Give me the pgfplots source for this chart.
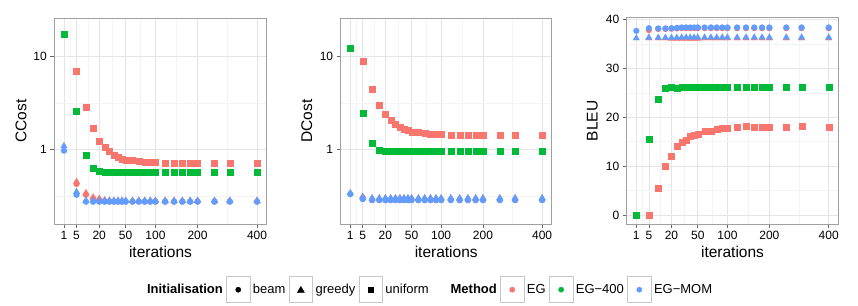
\documentclass[border=0pt]{standalone}
\usepackage{fontspec}
\setmainfont{Liberation Sans}
\usepackage{pgfplots}
\pgfplotsset{compat=1.18}
\definecolor{egred}{HTML}{F8766D}
\definecolor{eggreen}{HTML}{00BA38}
\definecolor{egblue}{HTML}{619CFF}
\definecolor{gmajor}{RGB}{229,229,229}
\definecolor{gminor}{RGB}{244,244,244}
\definecolor{gborder}{RGB}{160,160,160}
\tikzset{keybox/.style={draw=black!22, fill=white, line width=0.7pt}}
\pgfplotsset{
  panel/.style={
    scale only axis, height=205.7pt,
    anchor=south west,
    x coord trafo/.code={\pgfmathparse{sqrt(##1)}},
    x coord inv trafo/.code={\pgfmathparse{(##1)^2}},
    xmin=0.0025, xmax=438.9,
    xtick={1,5,20,50,100,200,400},
    xticklabels={1,5,20,50,100,200,400},
    minor xtick={2.618,11.25,33.3,72.9,145.7,291.4},
    grid=both,
    major grid style={draw=gmajor, line width=0.6pt},
    minor grid style={draw=gminor, line width=0.5pt},
    axis line style={draw=gborder, line width=0.7pt},
    tick align=outside, xtick pos=left, ytick pos=left,
    major tick length=4pt, minor tick length=0pt,
    tick style={draw=black!60, line width=0.6pt},
    ticklabel style={font=\fontsize{12}{14}\selectfont, text=black},
    /pgf/number format/assume math mode=true,
    label style={font=\fontsize{15.5}{18}\selectfont},
    xlabel={iterations},
    xlabel style={at={(axis description cs:0.5,-0.137)}, anchor=center},
    every axis plot/.append style={only marks, forget plot},
  },
  sq/.style={mark=square*, mark size=3pt, color=#1, mark options={draw=#1, fill=#1, line width=0.1pt}},
  ci/.style={mark=*, mark size=3pt, color=#1, mark options={draw=#1, fill=#1, line width=0.1pt}},
  tr/.style={mark=triangle*, mark size=3.9pt, color=#1, mark options={draw=#1, fill=#1, line width=0.1pt}},
}
\newcommand{\kbox}{\draw[keybox] (0pt,-13pt) rectangle (23.5pt,13pt);}
\begin{document}
\begin{tikzpicture}
\useasboundingbox (0,0) rectangle (858pt,305pt);
% ---------------- CCost
\begin{axis}[panel, at={(54.3pt,81pt)}, width=212.4pt,
  ymode=log, ymin=0.161, ymax=25.2,
  ytick={1,10}, yticklabels={1,10}, minor ytick={0.3162,3.162},
  ylabel={CCost}, ylabel style={at={(axis description cs:-0.157,0.5)}, anchor=center}]
\addplot[ci=egred] coordinates {(5,0.43)(10,0.33)(15,0.30)(20,0.29)(25,0.283)(30,0.28)(35,0.28)(40,0.28)(45,0.28)(50,0.28)(60,0.28)(70,0.28)(80,0.28)(90,0.28)(100,0.28)(120,0.28)(140,0.28)(160,0.28)(180,0.28)(200,0.28)(250,0.28)(300,0.28)(400,0.28)};
\addplot[tr=egred] coordinates {(5,0.455)(10,0.345)(15,0.31)(20,0.30)(25,0.29)(30,0.287)(35,0.285)(40,0.285)(45,0.285)(50,0.285)(60,0.285)(70,0.285)(80,0.285)(90,0.285)(100,0.285)(120,0.285)(140,0.285)(160,0.285)(180,0.285)(200,0.285)(250,0.285)(300,0.285)(400,0.285)};
\addplot[sq=egred] coordinates {(5,6.9)(10,2.86)(15,1.68)(20,1.25)(25,1.07)(30,0.96)(35,0.885)(40,0.836)(45,0.80)(50,0.78)(60,0.77)(70,0.758)(80,0.745)(90,0.74)(100,0.734)(120,0.72)(140,0.72)(160,0.72)(180,0.72)(200,0.72)(250,0.72)(300,0.72)(400,0.72)};
\addplot[sq=eggreen] coordinates {(1,17.1)(5,2.57)(10,0.885)(15,0.643)(20,0.59)(25,0.578)(30,0.578)(35,0.578)(40,0.578)(45,0.578)(50,0.578)(60,0.578)(70,0.578)(80,0.578)(90,0.578)(100,0.578)(120,0.578)(140,0.578)(160,0.578)(180,0.578)(200,0.578)(250,0.578)(300,0.578)(400,0.578)};
\addplot[ci=egblue] coordinates {(1,0.975)(5,0.33)(10,0.278)(15,0.278)(20,0.278)(25,0.278)(30,0.278)(35,0.278)(40,0.278)(45,0.278)(50,0.278)(60,0.278)(70,0.278)(80,0.278)(90,0.278)(100,0.278)(120,0.278)(140,0.278)(160,0.278)(180,0.278)(200,0.278)(250,0.278)(300,0.278)(400,0.278)};
\addplot[tr=egblue] coordinates {(1,1.095)(5,0.355)(10,0.286)(15,0.286)(20,0.286)(25,0.286)(30,0.286)(35,0.286)(40,0.286)(45,0.286)(50,0.286)(60,0.286)(70,0.286)(80,0.286)(90,0.286)(100,0.286)(120,0.286)(140,0.286)(160,0.286)(180,0.286)(200,0.286)(250,0.286)(300,0.286)(400,0.286)};
\end{axis}
% ---------------- DCost
\begin{axis}[panel, at={(340.7pt,81pt)}, width=211pt,
  ymode=log, ymin=0.161, ymax=25.2,
  ytick={1,10}, yticklabels={1,10}, minor ytick={0.3162,3.162},
  ylabel={DCost}, ylabel style={at={(axis description cs:-0.161,0.5)}, anchor=center},
  legend style={at={(axis description cs:-0.9303,-0.3194)}, anchor=west, draw=none, fill=none,
    inner sep=0pt, outer sep=0pt, font=\fontsize{13}{15}\selectfont,
    nodes={inner sep=1.3pt},
    /tikz/every odd column/.style={column sep=1.3pt},
    /tikz/every even column/.style={column sep=2pt}},
  legend columns=8, legend cell align=left]
\addplot[ci=egred] coordinates {(5,0.305)(10,0.29)(15,0.29)(20,0.29)(25,0.29)(30,0.29)(35,0.29)(40,0.29)(45,0.29)(50,0.29)(60,0.29)(70,0.29)(80,0.29)(90,0.29)(100,0.29)(120,0.29)(140,0.29)(160,0.29)(180,0.29)(200,0.29)(250,0.29)(300,0.29)(400,0.29)};
\addplot[tr=egred] coordinates {(5,0.315)(10,0.302)(15,0.302)(20,0.302)(25,0.302)(30,0.302)(35,0.302)(40,0.302)(45,0.302)(50,0.302)(60,0.302)(70,0.302)(80,0.302)(90,0.302)(100,0.302)(120,0.302)(140,0.302)(160,0.302)(180,0.302)(200,0.302)(250,0.302)(300,0.302)(400,0.302)};
\addplot[sq=egred] coordinates {(5,8.85)(10,4.48)(15,3.02)(20,2.39)(25,2.07)(30,1.88)(35,1.75)(40,1.66)(45,1.61)(50,1.56)(60,1.53)(70,1.51)(80,1.47)(90,1.46)(100,1.46)(120,1.42)(140,1.42)(160,1.42)(180,1.42)(200,1.42)(250,1.42)(300,1.42)(400,1.42)};
\addplot[sq=eggreen] coordinates {(1,12.1)(5,2.45)(10,1.17)(15,1.0)(20,0.97)(25,0.97)(30,0.97)(35,0.97)(40,0.97)(45,0.97)(50,0.97)(60,0.97)(70,0.97)(80,0.97)(90,0.97)(100,0.97)(120,0.97)(140,0.97)(160,0.97)(180,0.97)(200,0.97)(250,0.97)(300,0.97)(400,0.97)};
\addplot[ci=egblue] coordinates {(1,0.335)(5,0.296)(10,0.289)(15,0.289)(20,0.289)(25,0.289)(30,0.289)(35,0.289)(40,0.289)(45,0.289)(50,0.289)(60,0.289)(70,0.289)(80,0.289)(90,0.289)(100,0.289)(120,0.289)(140,0.289)(160,0.289)(180,0.289)(200,0.289)(250,0.289)(300,0.289)(400,0.289)};
\addplot[tr=egblue] coordinates {(1,0.345)(5,0.312)(10,0.304)(15,0.304)(20,0.304)(25,0.304)(30,0.304)(35,0.304)(40,0.304)(45,0.304)(50,0.304)(60,0.304)(70,0.304)(80,0.304)(90,0.304)(100,0.304)(120,0.304)(140,0.304)(160,0.304)(180,0.304)(200,0.304)(250,0.304)(300,0.304)(400,0.304)};
\addlegendimage{empty legend}
\addlegendentry{\textbf{Initialisation}\hspace{2.5pt}}
\addlegendimage{legend image code/.code={\kbox \fill[black] (11.75pt,0pt) circle (2.6pt);}}
\addlegendentry{beam}
\addlegendimage{legend image code/.code={\kbox \fill[black] (11.75pt,3.3pt) -- (15.3pt,-2.8pt) -- (8.2pt,-2.8pt) -- cycle;}}
\addlegendentry{greedy}
\addlegendimage{legend image code/.code={\kbox \fill[black] (9.35pt,-2.4pt) rectangle (14.15pt,2.4pt);}}
\addlegendentry{uniform}
\addlegendimage{empty legend}
\addlegendentry{\hspace{16pt}\textbf{Method}\hspace{2.3pt}}
\addlegendimage{legend image code/.code={\kbox \fill[egred] (11.75pt,0pt) circle (2.6pt);}}
\addlegendentry{EG}
\addlegendimage{legend image code/.code={\kbox \fill[eggreen] (11.75pt,0pt) circle (2.6pt);}}
\addlegendentry{EG−400}
\addlegendimage{legend image code/.code={\kbox \fill[egblue] (11.75pt,0pt) circle (2.6pt);}}
\addlegendentry{EG−MOM}
\end{axis}
% ---------------- BLEU
\begin{axis}[panel, at={(626.7pt,81pt)}, width=211.6pt, height=206.3pt,
  ymin=-1.85, ymax=40.4,
  ytick={0,10,20,30,40}, minor ytick={5,15,25,35},
  ylabel={BLEU}, ylabel style={at={(axis description cs:-0.162,0.5)}, anchor=center}]
\addplot[ci=egred] coordinates {(5,37.85)(10,38.1)(15,38.1)(20,38.15)(25,38.2)(30,38.25)(35,38.25)(40,38.25)(45,38.25)(50,38.25)(60,38.25)(70,38.25)(80,38.25)(90,38.25)(100,38.25)(120,38.25)(140,38.25)(160,38.25)(180,38.25)(200,38.25)(250,38.25)(300,38.25)(400,38.25)};
\addplot[tr=egred] coordinates {(5,36.2)(10,36.2)(15,36.2)(20,36.1)(25,36.1)(30,36.1)(35,36.1)(40,36.1)(45,36.1)(50,36.1)(60,36.2)(70,36.2)(80,36.2)(90,36.2)(100,36.2)(120,36.2)(140,36.2)(160,36.2)(180,36.2)(200,36.2)(250,36.2)(300,36.2)(400,36.2)};
\addplot[sq=egred] coordinates {(5,0)(10,5.5)(15,10.1)(20,12.15)(25,14.2)(30,14.9)(35,15.4)(40,16.1)(45,16.45)(50,16.65)(60,17.2)(70,17.2)(80,17.55)(90,17.7)(100,17.8)(120,17.95)(140,18.15)(160,18.1)(180,18.1)(200,18.1)(250,18.1)(300,18.15)(400,18.1)};
\addplot[sq=eggreen] coordinates {(1,0)(5,15.6)(10,23.8)(15,25.9)(20,26.15)(25,26.0)(30,26.1)(35,26.1)(40,26.1)(45,26.1)(50,26.1)(60,26.1)(70,26.1)(80,26.1)(90,26.1)(100,26.1)(120,26.1)(140,26.1)(160,26.1)(180,26.1)(200,26.1)(250,26.1)(300,26.1)(400,26.1)};
\addplot[ci=egblue] coordinates {(1,37.7)(5,38.25)(10,38.2)(15,38.2)(20,38.25)(25,38.3)(30,38.4)(35,38.4)(40,38.4)(45,38.4)(50,38.4)(60,38.4)(70,38.4)(80,38.4)(90,38.4)(100,38.4)(120,38.4)(140,38.4)(160,38.4)(180,38.4)(200,38.4)(250,38.4)(300,38.4)(400,38.4)};
\addplot[tr=egblue] coordinates {(1,36.2)(5,36.3)(10,36.3)(15,36.3)(20,36.3)(25,36.3)(30,36.35)(35,36.35)(40,36.35)(45,36.35)(50,36.35)(60,36.35)(70,36.35)(80,36.35)(90,36.35)(100,36.35)(120,36.35)(140,36.35)(160,36.35)(180,36.35)(200,36.35)(250,36.35)(300,36.35)(400,36.35)};
\end{axis}
\end{tikzpicture}
\end{document}
